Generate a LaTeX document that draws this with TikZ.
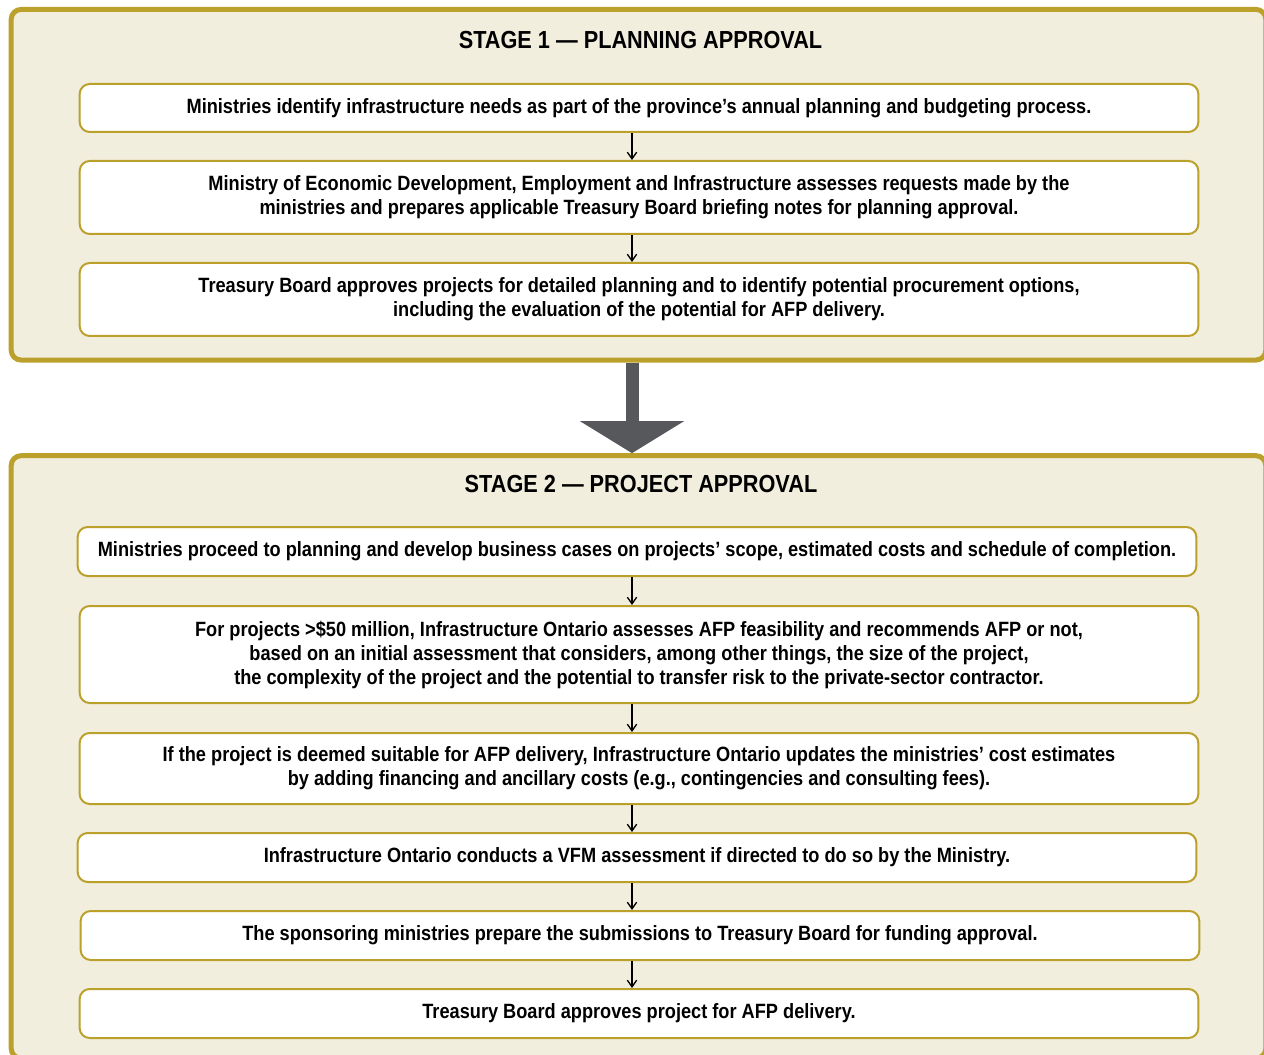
\documentclass[tikz,border=0pt]{standalone}
\usepackage{fontspec}
\setmainfont{Liberation Sans}[FakeStretch=0.88]
\usetikzlibrary{arrows.meta}
\definecolor{framegold}{RGB}{187,161,44}
\definecolor{framecream}{RGB}{242,238,222}
\definecolor{arrowgrey}{RGB}{87,88,91}
\tikzset{
	stageframe/.style={draw=framegold, line width=3.75pt, fill=framecream, rounded corners=7.5pt, minimum width=941pt},
	stagetitle/.style={font=\fontsize{18.5}{22}\selectfont\bfseries, inner sep=0pt},
	stepbox/.style={draw=framegold, line width=1.5pt, fill=white, rounded corners=7.5pt, minimum width=839pt, align=center, font=\fontsize{15.5}{18}\selectfont\bfseries, inner sep=0pt},
	steparrow/.style={line width=1pt, -{Straight Barb[length=5pt,width=7pt]}},
	bigarrow/.style={draw=arrowgrey, line width=9.75pt, -{Triangle[length=24pt,width=77pt,fill=arrowgrey]}},
}
\begin{document}
\begin{tikzpicture}[x=0.75pt,y=0.75pt,yscale=-1,xscale=1]
	\path[use as bounding box] (0,0) rectangle (1264,1055);
	\clip (0,0) rectangle (1264,1055);
	\coordinate (axis) at (632,0);
	
	% stage frames
	\node[stageframe, minimum height=263pt] (stageone) at (638.5,184.75) {};
	\node[stageframe, minimum height=452pt] (stagetwo) at (638.5,757) {};
	\draw[bigarrow] (stageone.south -| axis) -- (stagetwo.north -| axis);
	
	% titles
	\node[stagetitle] (titleone) at (640.5,40) {STAGE 1 — PLANNING APPROVAL};
	\node[stagetitle] (titletwo) at (641,484) {STAGE 2 — PROJECT APPROVAL};
	
	% stage 1 steps
	\node[stepbox, minimum height=36pt] (plan1) at (639,108) {Ministries identify infrastructure needs as part of the province’s annual planning and budgeting process.};
	\node[stepbox, minimum height=54.75pt] (plan2) at (639,197.5) {Ministry of Economic Development, Employment and Infrastructure assesses requests made by the\\ministries and prepares applicable Treasury Board briefing notes for planning approval.};
	\node[stepbox, minimum height=54.75pt] (plan3) at (639,299.5) {Treasury Board approves projects for detailed planning and to identify potential procurement options,\\including the evaluation of the potential for AFP delivery.};
	
	% stage 2 steps
	\node[stepbox, minimum height=36.75pt] (proj1) at (637,551.5) {Ministries proceed to planning and develop business cases on projects’ scope, estimated costs and schedule of completion.};
	\node[stepbox, minimum height=72.75pt] (proj2) at (639,654.5) {For projects >\$50 million, Infrastructure Ontario assesses AFP feasibility and recommends AFP or not,\\based on an initial assessment that considers, among other things, the size of the project,\\the complexity of the project and the potential to transfer risk to the private-sector contractor.};
	\node[stepbox, minimum height=53.25pt] (proj3) at (639,768.5) {If the project is deemed suitable for AFP delivery, Infrastructure Ontario updates the ministries’ cost estimates\\by adding financing and ancillary costs (e.g., contingencies and consulting fees).};
	\node[stepbox, minimum height=36.75pt] (proj4) at (637,857.5) {Infrastructure Ontario conducts a VFM assessment if directed to do so by the Ministry.};
	\node[stepbox, minimum height=36.75pt] (proj5) at (640,935.5) {The sponsoring ministries prepare the submissions to Treasury Board for funding approval.};
	\node[stepbox, minimum height=36.75pt] (proj6) at (639,1013.5) {Treasury Board approves project for AFP delivery.};
	
	% step arrows
	\foreach \a/\b in {plan1/plan2,plan2/plan3,proj1/proj2,proj2/proj3,proj3/proj4,proj4/proj5,proj5/proj6}
		\draw[steparrow] (\a.south -| axis) -- (\b.north -| axis);
	
\end{tikzpicture}
\end{document}
